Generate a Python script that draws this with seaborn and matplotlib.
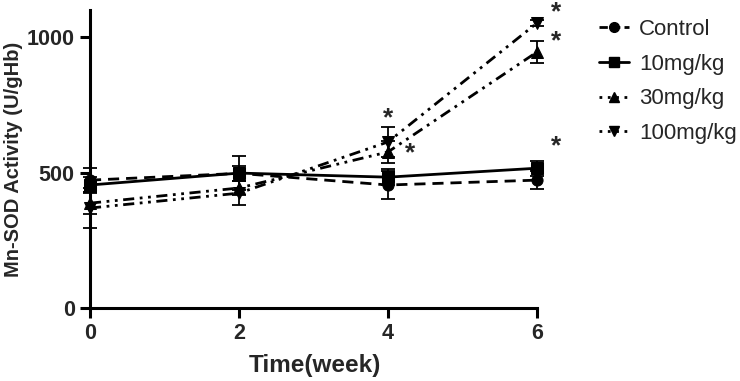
import matplotlib
matplotlib.use("Agg")
import matplotlib.pyplot as plt
import seaborn as sns
import pandas as pd
from matplotlib.lines import Line2D

weeks = [0, 2, 4, 6]
groups = ["Control", "10mg/kg", "30mg/kg", "100mg/kg"]
control = [472, 497, 454, 472]
mg10 = [454, 498, 483, 516]
mg30 = [387, 443, 576, 945]
mg100 = [369, 424, 613, 1052]
control_err = [45, 27, 52, 33]
mg10_err = [30, 63, 30, 28]
mg30_err = [40, 25, 40, 40]
mg100_err = [75, 44, 55, 10]
yticks = [0, 500, 1000]
xticks = [0, 2, 4, 6]

sns.set_theme(style="ticks")
plt.rcParams["font.family"] = ["Liberation Sans", "DejaVu Sans"]

values = [control, mg10, mg30, mg100]
errs = [control_err, mg10_err, mg30_err, mg100_err]
df = pd.DataFrame({
    "week": weeks * 4,
    "value": control + mg10 + mg30 + mg100,
    "group": [g for g in groups for _ in weeks],
})

styles = {
    "Control": dict(marker="o", ls=(0, (4, 2.5)), ms=8),
    "10mg/kg": dict(marker="s", ls="-", ms=8),
    "30mg/kg": dict(marker="^", ls=(0, (4, 2, 1, 2, 1, 2)), ms=9),
    "100mg/kg": dict(marker="v", ls=(0, (4, 2, 1, 2, 1, 2)), ms=9),
}
legend_ls = {
    "Control": (0, (3, 1.5)),
    "10mg/kg": "-",
    "30mg/kg": (0, (1, 2)),
    "100mg/kg": (0, (1, 2)),
}

fig = plt.figure(figsize=(7.4, 3.81), dpi=100)
ax = fig.add_axes([90 / 740, 73 / 381, 447 / 740, 298 / 381])

for g, v, e in zip(groups, values, errs):
    st = styles[g]
    sub = df[df["group"] == g]
    sns.lineplot(data=sub, x="week", y="value", ax=ax, color="black",
                 marker=st["marker"], markersize=st["ms"], linewidth=2,
                 linestyle=st["ls"], markeredgecolor="black", errorbar=None,
                 clip_on=False, zorder=3, legend=False)
    ax.errorbar(weeks, v, yerr=e, fmt="none", ecolor="black", elinewidth=1.3,
                capsize=5, capthick=1.3, clip_on=False, zorder=2)

# significance asterisks
star_pts = [(4.0, 700), (4.3, 570), (6.25, 1090), (6.25, 985), (6.25, 595)]
for sx, sy in star_pts:
    ax.text(sx, sy, "*", ha="center", va="center", fontsize=19, fontweight="bold", clip_on=False)

ax.set_xlim(0, 6)
ax.set_ylim(0, 1100)
ax.set_xticks(xticks)
ax.set_yticks(yticks)
ax.set_xticklabels([str(t) for t in xticks], fontsize=15.5, fontweight="bold")
ax.set_yticklabels([str(t) for t in yticks], fontsize=15.5, fontweight="bold")
ax.set_xlabel("Time(week)", fontsize=17.5, fontweight="bold")
ax.set_ylabel("Mn-SOD Activity (U/gHb)", fontsize=14.5, fontweight="bold")
ax.xaxis.set_label_coords(0.503, -0.155)
ax.yaxis.set_label_coords(-0.15, 0.5)
ax.spines["top"].set_visible(False)
ax.spines["right"].set_visible(False)
for s in ["left", "bottom"]:
    ax.spines[s].set_linewidth(2.2)
    ax.spines[s].set_color("black")
ax.tick_params(axis="both", width=2.2, length=7, color="black", pad=4)

handles = [Line2D([], [], color="black", marker=styles[g]["marker"], markersize=7,
                  linestyle=legend_ls[g], linewidth=2) for g in groups]
fig.legend(handles, groups, loc="upper left", bbox_to_anchor=(590 / 740, 1 - 10 / 381),
           frameon=False, fontsize=16, handlelength=1.35, handletextpad=0.45,
           labelspacing=0.62, borderaxespad=0)

fig.savefig("out.png", dpi=100)
